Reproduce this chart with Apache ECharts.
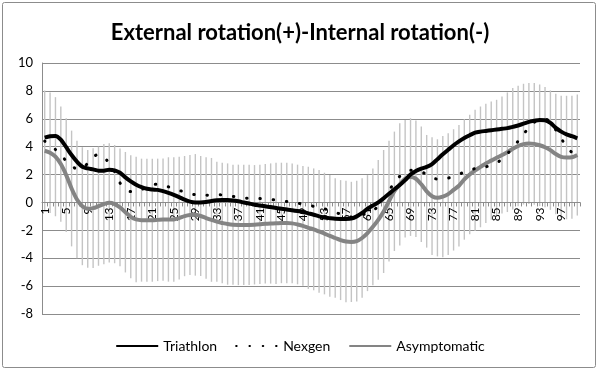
<!DOCTYPE html>
<html><head><meta charset="utf-8">
<script src="https://cdn.jsdelivr.net/npm/echarts@6/dist/echarts.min.js"></script>
<style>html,body{margin:0;padding:0;background:#fff}#c{width:600px;height:371px}</style>
</head><body><div id="c"></div>
<script>
const categories = Array.from({length: 100}, (_, i) => String(i + 1));
const yTicks = [-8, -6, -4, -2, 0, 2, 4, 6, 8, 10];

const triathlon = [4.65,4.75,4.77,4.5,3.96,3.4,2.92,2.56,2.44,2.37,
2.28,2.28,2.35,2.3,2.13,1.8,1.51,1.27,1.1,0.98,
0.93,0.9,0.81,0.69,0.55,0.38,0.2,0.06,0,0,
0.03,0.1,0.15,0.17,0.17,0.14,0.08,0,-0.08,-0.16,
-0.22,-0.28,-0.33,-0.4,-0.45,-0.5,-0.56,-0.62,-0.68,-0.78,
-0.88,-1.0,-1.08,-1.13,-1.17,-1.18,-1.18,-1.15,-1.0,-0.75,
-0.45,-0.22,0.0,0.3,0.62,0.95,1.25,1.6,2.0,2.25,
2.42,2.55,2.75,3.1,3.45,3.78,4.1,4.38,4.62,4.82,
5.0,5.08,5.13,5.18,5.23,5.28,5.33,5.42,5.52,5.65,
5.78,5.86,5.92,5.9,5.7,5.35,5.08,4.88,4.75,4.6];

const nexgen = [4.4,4.1,3.8,3.35,3.0,2.65,2.4,2.5,2.8,3.25,
3.45,3.25,2.8,2.2,1.4,1.0,0.78,0.8,0.92,1.12,
1.28,1.3,1.25,1.12,0.98,0.86,0.75,0.63,0.56,0.52,
0.52,0.55,0.57,0.53,0.48,0.43,0.37,0.32,0.3,0.29,
0.28,0.25,0.22,0.17,0.12,0.07,0.01,-0.05,-0.12,-0.2,
-0.28,-0.37,-0.46,-0.56,-0.69,-0.85,-0.98,-1.05,-1.02,-0.9,
-0.75,-0.6,-0.25,0.25,0.85,1.42,1.88,2.15,2.3,2.3,
2.2,2.0,1.78,1.68,1.68,1.75,1.85,2.0,2.2,2.35,
2.42,2.48,2.55,2.7,2.85,3.1,3.5,3.9,4.4,4.9,
5.35,5.75,5.95,5.97,5.8,5.2,4.6,4.0,3.6,3.5];

const asymptomatic = [3.71,3.57,3.28,2.75,1.96,1.0,0.21,-0.27,-0.46,-0.41,
-0.27,-0.12,-0.03,-0.12,-0.36,-0.7,-1.03,-1.22,-1.27,-1.27,
-1.27,-1.25,-1.23,-1.22,-1.22,-1.12,-0.98,-0.9,-0.89,-0.97,
-1.12,-1.25,-1.38,-1.47,-1.55,-1.6,-1.61,-1.61,-1.61,-1.6,
-1.57,-1.53,-1.51,-1.5,-1.47,-1.47,-1.5,-1.58,-1.68,-1.82,
-1.93,-2.08,-2.23,-2.4,-2.55,-2.7,-2.8,-2.83,-2.77,-2.55,
-2.2,-1.75,-1.25,-0.65,0.1,0.8,1.3,1.7,1.82,1.7,
1.3,0.8,0.45,0.33,0.42,0.6,0.9,1.2,1.65,2.0,
2.3,2.55,2.8,3.0,3.2,3.4,3.6,3.85,4.05,4.18,
4.22,4.2,4.1,3.96,3.75,3.47,3.27,3.22,3.24,3.4];

const asymptomaticSD = [4.32,4.32,4.27,4.13,4.08,4.15,4.22,4.23,4.22,4.29,
4.27,4.32,4.27,4.24,4.22,4.32,4.41,4.5,4.41,4.41,
4.41,4.39,4.39,4.46,4.46,4.4,4.31,4.3,4.36,4.3,
4.36,4.44,4.3,4.32,4.35,4.31,4.32,4.31,4.31,4.28,
4.28,4.28,4.31,4.35,4.32,4.32,4.3,4.29,4.29,4.38,
4.37,4.4,4.36,4.36,4.28,4.3,4.36,4.31,4.33,4.28,
4.16,4.19,4.29,4.41,4.33,4.28,4.38,4.22,4.22,4.17,
4.14,4.04,4.22,4.2,4.35,4.36,4.35,4.36,4.32,4.28,
4.34,4.33,4.27,4.24,4.16,4.2,4.29,4.35,4.32,4.33,
4.34,4.36,4.36,4.31,4.28,4.32,4.38,4.43,4.41,4.34];

const errData = asymptomatic.map((m, i) => [i, m - asymptomaticSD[i], m + asymptomaticSD[i]]);

const yMin = yTicks[0], yMax = yTicks[yTicks.length - 1];
const gridHeight = 251;
// place category axis on the zero line
const zeroOffset = -(0 - yMin) / (yMax - yMin) * gridHeight;

const chart = echarts.init(document.getElementById('c'), null, {renderer: 'canvas'});
chart.setOption({
  animation: false,
  backgroundColor: '#fff',
  textStyle: {fontFamily: 'Lato, "Open Sans", sans-serif'},
  graphic: [{
    type: 'rect', shape: {x: 2.5, y: 2.5, width: 593, height: 365, r: 2},
    style: {fill: 'none', stroke: '#8c8c8c', lineWidth: 1}, z: -10
  }],
  title: {
    text: 'External rotation(+)-Internal rotation(-)',
    left: 'center', top: 17,
    textStyle: {fontFamily: 'Lato, sans-serif', fontSize: 22, fontWeight: 'bold', color: '#000'}
  },
  legend: {
    bottom: 13, left: 'center', itemWidth: 42, itemHeight: 10, itemGap: 18,
    textStyle: {fontSize: 14, color: '#000', fontFamily: 'Lato, sans-serif'},
    itemStyle: {opacity: 0},
    data: ['Triathlon', 'Nexgen', 'Asymptomatic']
  },
  grid: {left: 42, right: 20, top: 63, height: gridHeight, containLabel: false},
  xAxis: {
    type: 'category', data: categories, boundaryGap: true, z: 2,
    offset: zeroOffset,
    axisLine: {onZero: false, lineStyle: {color: '#8c8c8c', width: 1}},
    axisTick: {show: true, interval: 0, length: 4, lineStyle: {color: '#8c8c8c'}},
    axisLabel: {interval: 3, rotate: 90, fontSize: 12, color: '#000', margin: 5, fontFamily: 'Lato, sans-serif'},
    splitLine: {show: false}
  },
  yAxis: {
    type: 'value', min: yMin, max: yMax, interval: 2, z: 0,
    axisLine: {show: true, lineStyle: {color: '#8c8c8c'}},
    axisTick: {show: false},
    axisLabel: {fontSize: 13, color: '#000', margin: 9, fontFamily: 'Lato, sans-serif'},
    splitLine: {lineStyle: {color: '#8c8c8c', width: 1}}
  },
  series: [
    {
      name: 'err', type: 'custom', z: 1, silent: true,
      data: errData,
      renderItem: function (params, api) {
        const x = api.value(0);
        const p1 = api.coord([x, api.value(1)]);
        const p2 = api.coord([x, api.value(2)]);
        return {
          type: 'line',
          shape: {x1: p1[0], y1: p1[1], x2: p2[0], y2: p2[1]},
          style: {stroke: '#c4c4c4', lineWidth: 1.4}
        };
      },
      encode: {x: 0, y: [1, 2]}
    },
    {
      name: 'Asymptomatic', type: 'line', z: 3, data: asymptomatic, smooth: 0.3,
      symbol: 'none', lineStyle: {color: '#848484', width: 4}, itemStyle: {color: '#848484'}
    },
    {
      name: 'Nexgen', type: 'line', z: 4, data: nexgen, smooth: 0.3,
      symbol: 'none',
      lineStyle: {color: '#000', width: 3, type: [0.5, 12.8], cap: 'round'},
      itemStyle: {color: '#000'}
    },
    {
      name: 'Triathlon', type: 'line', z: 5, data: triathlon, smooth: 0.3,
      symbol: 'none', lineStyle: {color: '#000', width: 4}, itemStyle: {color: '#000'}
    }
  ]
});
</script>
</body></html>
